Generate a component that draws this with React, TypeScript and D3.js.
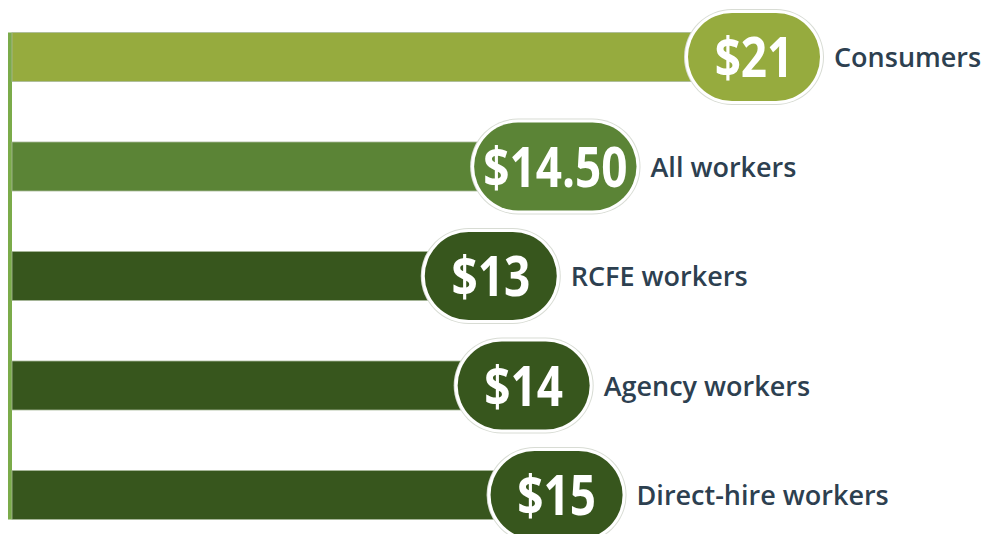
import React, { useEffect, useRef } from "react";
import * as d3 from "d3";

const categories = ["Consumers", "All workers", "RCFE workers", "Agency workers", "Direct-hire workers"];
const values = [21, 14.5, 13, 14, 15];
const valueLabels = ["$21", "$14.50", "$13", "$14", "$15"];
const barColors = ["#96ab3e", "#5b8436", "#37561d", "#37561d", "#37561d"];

const W = 986;
const H = 534;

export default function App() {
  const ref = useRef<SVGSVGElement | null>(null);

  useEffect(() => {
    const svg = d3.select(ref.current);
    svg.selectAll("*").remove();

    const axisX = 10;
    const x = d3.scaleLinear().domain([0, 21]).range([-3, 688]);
    const y = d3.scalePoint<string>().domain(categories).range([57, 495]);
    const barH = 49;
    const pillH = 88;
    const minPillW = 132;
    const textScale = 0.82;

    const data = categories.map((c, i) => ({ c, v: values[i], lab: valueLabels[i], color: barColors[i] }));

    // axis line
    svg
      .append("rect")
      .attr("x", axisX - 2)
      .attr("y", (y(categories[0]) as number) - barH / 2)
      .attr("width", 4)
      .attr("height", (y(categories[categories.length - 1]) as number) - (y(categories[0]) as number) + barH)
      .attr("fill", "#7bab4a");

    const g = svg.selectAll("g.row").data(data).enter().append("g").attr("class", "row");

    g.append("rect")
      .attr("x", axisX + 2)
      .attr("y", (d) => (y(d.c) as number) - barH / 2)
      .attr("width", (d) => x(d.v) + 30 - (axisX + 2))
      .attr("height", barH)
      .attr("fill", (d) => d.color)
      .attr("stroke", "#a9b89a")
      .attr("stroke-width", 0.8);

    g.each(function (d) {
      const row = d3.select(this);
      const cy = y(d.c) as number;
      // measure text
      const tmp = row
        .append("text")
        .attr("font-family", "'Open Sans', sans-serif")
        .attr("font-weight", 700)
        .attr("font-size", 56)
        .text(d.lab);
      const tw = (tmp.node() as SVGTextElement).getComputedTextLength() * textScale;
      tmp.remove();
      const pw = Math.max(minPillW, tw + 18);
      const left = x(d.v);
      // outer gray ring
      row
        .append("rect")
        .attr("x", left - 4)
        .attr("y", cy - pillH / 2 - 4)
        .attr("width", pw + 8)
        .attr("height", pillH + 8)
        .attr("rx", pillH / 2 + 4)
        .attr("fill", "#d8dcd4");
      row
        .append("rect")
        .attr("x", left - 3)
        .attr("y", cy - pillH / 2 - 3)
        .attr("width", pw + 6)
        .attr("height", pillH + 6)
        .attr("rx", pillH / 2 + 3)
        .attr("fill", "#ffffff");
      row
        .append("rect")
        .attr("x", left)
        .attr("y", cy - pillH / 2)
        .attr("width", pw)
        .attr("height", pillH)
        .attr("rx", pillH / 2)
        .attr("fill", d.color);
      row
        .append("text")
        .attr("transform", `translate(${left + pw / 2},${cy + 20}) scale(${textScale},1)`)
        .attr("text-anchor", "middle")
        .attr("font-family", "'Open Sans', sans-serif")
        .attr("font-weight", 700)
        .attr("font-size", 56)
        .attr("fill", "#ffffff")
        .text(d.lab);
      row
        .append("text")
        .attr("x", left + pw + 14)
        .attr("y", cy + 10)
        .attr("font-family", "'Open Sans', sans-serif")
        .attr("font-weight", 600)
        .attr("font-size", 27)
        .attr("fill", "#2d4050")
        .text(d.c);
    });
  }, []);

  return (
    <svg
      ref={ref}
      width={W}
      height={H}
      style={{ position: "absolute", left: 0, top: 0, background: "#ffffff" }}
    />
  );
}
